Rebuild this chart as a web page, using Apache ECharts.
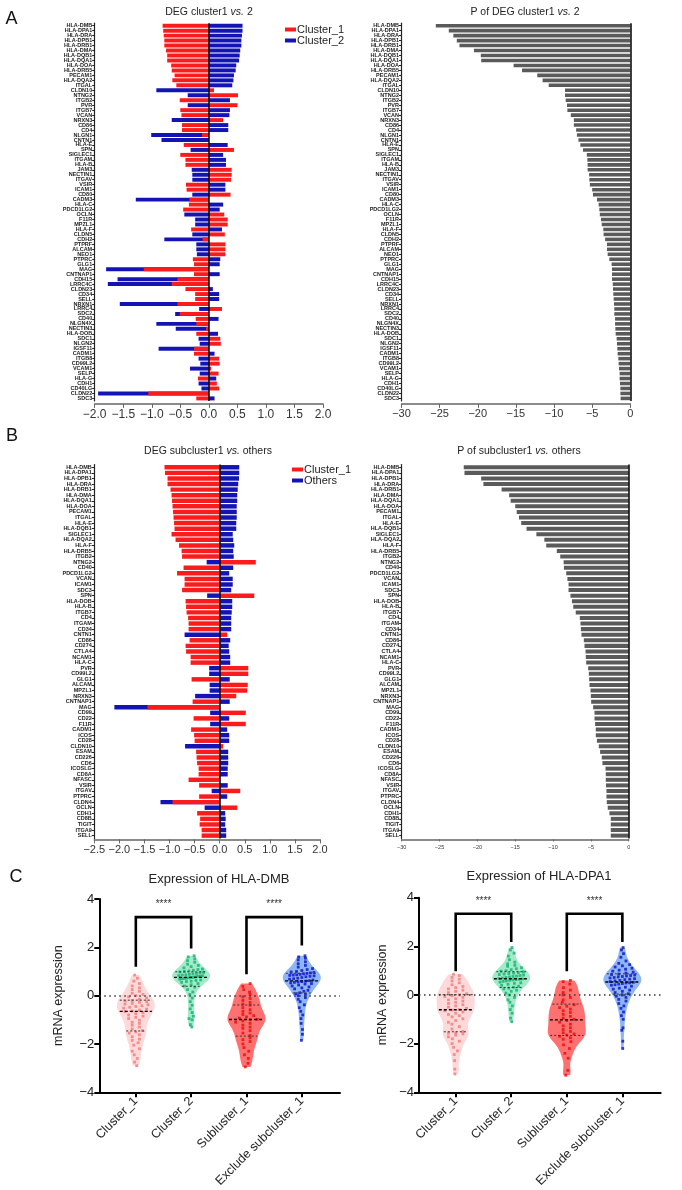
<!DOCTYPE html>
<html><head><meta charset="utf-8">
<script src="https://cdn.jsdelivr.net/npm/echarts@6/dist/echarts.min.js"></script>
<style>html,body{margin:0;padding:0;background:#fff}#c{width:682px;height:1190px}</style>
</head><body><div id="c"></div>
<script>
// ---------- Panel A data ----------
const genesA = ['HLA-DMB','HLA-DPA1','HLA-DRA','HLA-DPB1','HLA-DRB1','HLA-DMA','HLA-DQB1','HLA-DQA1','HLA-DOA','HLA-DRB5','PECAM1','HLA-DQA2','ITGAL','CLDN10','NTNG2','ITGB2','PVR','ITGB7','VCAN','NRXN3','CD86','CD4','NLGN1','CNTN1','HLA-E','SPN','SIGLEC1','ITGAM','HLA-B','JAM3','NECTIN1','ITGAV','VSIR','ICAM1','CD80','CADM3','HLA-C','PDCD1LG2','OCLN','F11R','MPZL1','HLA-F','CLDN5','CDH2','PTPRF','ALCAM','NEO1','PTPRC','GLG1','MAG','CNTNAP1','CDH15','LRRC4C','CLDN23','CD34','SELL','NRXN1','LRRC4','SDC2','CD40','NLGN4X','NECTIN3','HLA-DOB','SDC1','NLGN2','IGSF11','CADM1','ITGB8','CD99L2','VCAM1','SELP','HLA-G','CDH1','CD40LG','CLDN22','SDC3'];
const aCluster1 = [-0.81,-0.80,-0.79,-0.78,-0.78,-0.75,-0.73,-0.73,-0.66,-0.65,-0.60,-0.64,-0.57,0.09,0.51,-0.51,0.50,-0.50,-0.48,0.25,-0.47,-0.47,-0.12,0,-0.44,0.44,-0.50,-0.41,-0.41,0.40,0.40,0.39,-0.40,-0.39,0.38,-0.34,-0.35,-0.45,0.27,0.33,0.33,-0.31,0.28,-0.11,0.29,0.29,0.29,-0.28,-0.26,-1.14,-0.26,-0.55,-0.65,-0.41,-0.24,-0.24,-0.55,0.23,-0.51,-0.23,-0.22,-0.05,-0.22,0.20,0.21,-0.26,-0.26,0.18,0.19,0.04,0.17,-0.19,0.14,0.18,-1.06,-0.22];
const aCluster2 = [0.59,0.59,0.58,0.57,0.57,0.55,0.54,0.53,0.48,0.47,0.44,0.43,0.41,-0.92,-0.37,0.37,-0.37,0.37,0.36,-0.65,0.34,0.34,-1.01,-0.83,0.33,-0.32,0.25,0.30,0.30,-0.30,-0.29,-0.29,0.29,0.29,-0.29,-1.28,0.25,0.19,-0.43,-0.24,-0.24,0.23,-0.29,-0.78,-0.22,-0.22,-0.21,0.20,0.19,-1.80,0.19,-1.60,-1.77,0.07,0.18,0.18,-1.56,-0.17,-0.59,0.17,-0.92,-0.58,0.16,-0.18,-0.16,-0.88,0.10,-0.18,-0.15,-0.33,-0.16,0.13,-0.18,-0.13,-1.94,0.10];
const aP = [-25.5,-23.8,-23.2,-22.75,-22.4,-20.5,-19.6,-19.55,-15.3,-14.2,-12.2,-11.5,-10.7,-8.56,-8.56,-8.47,-8.3,-8.25,-7.8,-7.4,-7.4,-7.1,-7.0,-6.8,-6.55,-6.2,-5.7,-5.63,-5.6,-5.6,-5.4,-5.37,-5.3,-5.0,-4.9,-4.37,-4.15,-4.06,-4.0,-3.84,-3.75,-3.54,-3.5,-3.3,-3.06,-3.06,-2.97,-2.75,-2.45,-2.4,-2.4,-2.4,-2.3,-2.27,-2.23,-2.18,-2.14,-2.1,-2.1,-2.0,-2.0,-1.96,-1.92,-1.79,-1.75,-1.7,-1.66,-1.57,-1.53,-1.48,-1.4,-1.4,-1.35,-1.3,-1.3,-1.27];
const aTicks = [-2, 2, 0.5];
const apTicks = [-30, 0, 5];

// ---------- Panel B data ----------
const genesB = ['HLA-DMB','HLA-DPA1','HLA-DPB1','HLA-DRA','HLA-DRB1','HLA-DMA','HLA-DQA1','HLA-DOA','PECAM1','ITGAL','HLA-E','HLA-DQB1','SIGLEC1','HLA-DQA2','HLA-F','HLA-DRB5','ITGB2','NTNG2','CD40','PDCD1LG2','VCAN','ICAM1','SDC3','SPN','HLA-DOB','HLA-B','ITGB7','CD4','ITGAM','CD34','CNTN1','CD86','CD274','CTLA4','NCAM1','HLA-C','PVR','CD99L2','GLG1','ALCAM','MPZL1','NRXN3','CNTNAP1','MAG','CD99','CD22','F11R','CADM1','ICOS','CD28','CLDN10','ESAM','CD226','CD6','ICOSLG','CD8A','NFASC','VSIR','ITGAV','PTPRC','CLDN4','OCLN','CDH1','CD8B','TIGIT','ITGA9','SELL'];
const bCluster1 = [-1.10,-1.09,-1.04,-1.04,-0.98,-0.96,-0.95,-0.94,-0.93,-0.92,-0.91,-0.90,-0.96,-0.88,-0.81,-0.76,-0.75,0.72,-0.72,-0.85,-0.70,-0.70,-0.75,0.69,-0.68,-0.67,-0.66,-0.63,-0.62,-0.62,0.15,-0.60,-0.68,-0.67,-0.58,-0.58,0.57,0.57,-0.56,0.56,0.55,0.33,-0.54,-1.44,0.52,-0.52,0.52,-0.57,-0.51,-0.50,0.07,-0.47,-0.46,-0.45,-0.42,-0.42,-0.62,-0.41,0.41,-0.41,-0.94,0.35,-0.45,-0.39,-0.40,-0.36,-0.36];
const bOthers = [0.39,0.39,0.385,0.37,0.36,0.35,0.35,0.34,0.34,0.34,0.33,0.33,0.26,0.27,0.29,0.27,0.28,-0.26,0.27,0.19,0.26,0.26,0.23,-0.25,0.25,0.25,0.24,0.23,0.23,0.23,-0.70,0.21,0.18,0.19,0.21,0.21,-0.21,-0.21,0.20,-0.20,-0.20,-0.49,0.20,-2.10,-0.19,0.19,-0.19,0.15,0.19,0.19,-0.69,0.17,0.17,0.17,0.16,0.16,0,0.16,-0.16,0.15,-1.18,-0.30,0.11,0.12,0.11,0.13,0.13];
const bP = [-21.8,-21.7,-19.5,-19.2,-16.8,-15.8,-15.6,-15.0,-14.8,-14.5,-14.2,-13.5,-12.2,-11.15,-10.9,-9.5,-9.05,-8.6,-8.56,-8.26,-8.1,-7.95,-7.95,-7.7,-7.5,-7.33,-7.0,-6.46,-6.37,-6.32,-6.24,-5.93,-5.84,-5.7,-5.67,-5.62,-5.36,-5.27,-5.23,-5.18,-5.05,-5.0,-4.96,-4.7,-4.52,-4.52,-4.44,-4.35,-4.35,-4.2,-3.95,-3.78,-3.56,-3.47,-3.07,-3.03,-3.03,-3.0,-2.94,-2.94,-2.9,-2.77,-2.55,-2.37,-2.37,-2.37,-2.37];
const bTicks = [-2.5, 2, 0.5];

// ---------- Panel C data ----------
const vCats = ['Cluster_1','Cluster_2','Subluster_1','Exclude subcluster_1'];
const dmbC1 = [-2.9,-2.75,-2.6,-2.45,-2.3,-2.2,-2.05,-1.95,-1.85,-1.8,-1.7,-1.62,-1.55,-1.5,-1.45,-1.38,-1.3,-1.22,-1.15,-1.1,-1.02,-0.95,-0.9,-0.85,-0.8,-0.75,-0.7,-0.66,-0.64,-0.6,-0.56,-0.52,-0.48,-0.45,-0.42,-0.38,-0.35,-0.32,-0.28,-0.25,-0.22,-0.2,-0.15,-0.1,-0.05,0.0,0.05,0.1,0.18,0.25,0.32,0.4,0.5,0.6,0.72,0.85];
const dmbC2 = [-1.3,-1.2,-1.0,-0.95,-0.85,-0.7,-0.55,-0.4,-0.25,-0.1,0.05,0.15,0.25,0.35,0.4,0.45,0.5,0.55,0.58,0.6,0.63,0.65,0.68,0.7,0.71,0.72,0.74,0.75,0.76,0.78,0.8,0.8,0.82,0.83,0.85,0.86,0.88,0.9,0.92,0.94,0.96,0.98,1.0,1.02,1.05,1.08,1.1,1.15,1.2,1.25,1.3,1.38,1.45,1.52,1.6,1.65];
const dmbS1 = [-2.95,-2.8,-2.6,-2.45,-2.3,-2.15,-2.0,-1.9,-1.82,-1.75,-1.65,-1.55,-1.45,-1.35,-1.3,-1.22,-1.15,-1.1,-1.05,-1.0,-0.98,-0.93,-0.88,-0.83,-0.78,-0.72,-0.65,-0.58,-0.5,-0.4,-0.35,-0.28,-0.2,-0.12,-0.05,0.05,0.15,0.25,0.38,0.5];
const dmbE = [-1.85,-1.6,-1.4,-1.15,-0.95,-0.8,-0.65,-0.5,-0.38,-0.25,-0.15,-0.08,0.0,0.05,0.08,0.12,0.18,0.22,0.28,0.32,0.36,0.4,0.44,0.48,0.5,0.53,0.55,0.57,0.58,0.6,0.62,0.65,0.68,0.7,0.72,0.75,0.78,0.8,0.82,0.84,0.85,0.86,0.88,0.9,0.92,0.94,0.96,0.98,1.0,1.04,1.08,1.12,1.18,1.25,1.32,1.4,1.48,1.55,1.6,1.65];
const dpaC1 = [-3.25,-3.05,-2.7,-2.45,-2.3,-2.15,-2.0,-1.9,-1.8,-1.72,-1.65,-1.6,-1.57,-1.55,-1.5,-1.4,-1.3,-1.2,-1.12,-1.05,-0.98,-0.9,-0.85,-0.8,-0.75,-0.7,-0.65,-0.62,-0.6,-0.55,-0.5,-0.45,-0.4,-0.35,-0.3,-0.25,-0.2,-0.15,-0.1,-0.06,-0.03,0.0,0.05,0.1,0.15,0.2,0.25,0.3,0.35,0.42,0.5,0.58,0.65,0.72,0.8,0.85];
const dpaC2 = [-1.1,-0.95,-0.75,-0.6,-0.45,-0.3,-0.2,-0.1,0.0,0.08,0.15,0.2,0.25,0.28,0.32,0.36,0.4,0.44,0.48,0.5,0.53,0.56,0.58,0.6,0.62,0.63,0.65,0.66,0.68,0.7,0.72,0.74,0.76,0.78,0.8,0.82,0.84,0.86,0.88,0.9,0.92,0.95,0.98,1.0,1.04,1.08,1.12,1.18,1.22,1.28,1.35,1.45,1.6,1.72,1.85,1.95];
const dpaS1 = [-3.3,-3.1,-2.6,-2.4,-2.2,-2.05,-1.92,-1.82,-1.76,-1.7,-1.65,-1.6,-1.55,-1.5,-1.42,-1.35,-1.27,-1.2,-1.12,-1.05,-1.0,-0.95,-0.88,-0.8,-0.72,-0.65,-0.58,-0.52,-0.46,-0.4,-0.3,-0.2,-0.1,0.0,0.1,0.2,0.3,0.45,0.55,0.6];
const dpaE = [-2.2,-1.9,-1.45,-1.35,-1.0,-0.85,-0.7,-0.55,-0.45,-0.35,-0.25,-0.18,-0.1,-0.05,0.0,0.05,0.1,0.15,0.2,0.24,0.28,0.32,0.36,0.4,0.42,0.45,0.47,0.49,0.5,0.52,0.55,0.58,0.6,0.63,0.65,0.67,0.7,0.72,0.74,0.76,0.78,0.8,0.82,0.84,0.86,0.9,0.94,0.98,1.02,1.06,1.1,1.15,1.2,1.25,1.3,1.4,1.55,1.7,1.85,1.95];
// comparisons: [groupA, groupB, bracketTop, leftLegEnd, rightLegEnd]
const dmbComparisons = [[0,1,3.25,1.2,1.95],[2,3,3.25,0.88,2.08]];
const dpaComparisons = [[0,1,3.34,0.98,2.18],[2,3,3.34,0.98,2.18]];
const sigLabels = ['****','****'];

// ---------- styling ----------
const FONT = '"Liberation Sans", Arial, Helvetica, sans-serif';
const RED = '#fa1c1c', BLUE = '#1414b4', GRAY = '#5a5a5a';
const vFill = ['#fdd9d9','#a3ebc8','#ff7070','#8db6f4'];
const vPoint = ['#f07a7a','#10b070','#e80a0a','#0c0cc8'];
const minus = v => String(v).replace('-', '\u2212');

function catY(gi, genes){
  return {type:'category', gridIndex:gi, data:genes, inverse:true,
    axisLine:{onZero:false, lineStyle:{color:'#222', width:1.2}},
    axisTick:{show:true, alignWithLabel:true, length:2.5, lineStyle:{color:'#222', width:1}},
    axisLabel:{interval:0, hideOverlap:false, fontSize:5.5, fontWeight:'bold', color:'#222', margin:2.5, fontFamily:FONT},
    splitLine:{show:false}};
}
function valX(gi, t, fs, fmt, off){
  return {type:'value', gridIndex:gi, min:t[0], max:t[1], interval:t[2], offset:off,
    axisLine:{show:true, onZero:false, lineStyle:{color:'#666', width:1.5}},
    axisTick:{show:true, length:4, lineStyle:{color:'#666', width:1}},
    axisLabel:{fontSize:fs, color:'#333', fontFamily:FONT, margin:5, formatter:fmt},
    splitLine:{show:false}};
}
const zeroLine = {silent:true, symbol:'none', label:{show:false}, lineStyle:{color:'#000', type:'solid', width:1.5}, data:[{xAxis:0}]};

// ---------- violin helpers ----------
function quant(s, p){ const i=(s.length-1)*p, lo=Math.floor(i), hi=Math.ceil(i); return s[lo]+(s[hi]-s[lo])*(i-lo); }
function kde(vals, y, bw){ let d=0; for (const v of vals) { const z=(y-v)/bw; d+=Math.exp(-0.5*z*z); } return d; }
function shape(vals){
  const s=[...vals].sort((a,b)=>a-b), mn=s[0], mx=s[s.length-1], bw=0.26, N=60;
  const ys=[], ds=[]; let dmax=0;
  for (let i=0;i<=N;i++){ const y=mn+(mx-mn)*i/N, d=kde(vals,y,bw); ys.push(y); ds.push(d); if(d>dmax)dmax=d; }
  return {s, ys, ds:ds.map(d=>d/dmax), w:(y)=>kde(vals,y,bw)/dmax};
}
const MAXW = 19; // px half width
const PXU = 55.3; // px per x unit
function swarm(groups){
  const out=[];
  groups.forEach((vals,gi)=>{
    const sh=shape(vals), bins={};
    vals.forEach(v=>{ const k=Math.round(v/0.15); (bins[k]=bins[k]||[]).push(v); });
    Object.keys(bins).forEach(k=>{
      const arr=bins[k], n=arr.length, wu=sh.w(arr[0])*MAXW/PXU;
      arr.forEach((v,j)=>{
        let dx;
        if (n===1) dx = ((+k)%2 ? 0.3 : -0.3)*wu;
        else dx = (j-(n-1)/2)*Math.min(0.13, 1.3*wu/(n-1));
        out.push({value:[gi+dx, v], itemStyle:{color:vPoint[gi]}});
      });
    });
  });
  return out;
}
function violinSeries(gi, groups){
  const shapes = groups.map(shape);
  return {type:'custom', xAxisIndex:gi, yAxisIndex:gi, clip:false, z:1, silent:true,
    data:groups.map((g,i)=>[i]),
    renderItem:(p,api)=>{
      const k=api.value(0), sh=shapes[k], L=[], R=[];
      sh.ys.forEach((y,i)=>{ const c=api.coord([k,y]), w=sh.ds[i]*MAXW; L.push([c[0]-w,c[1]]); R.push([c[0]+w,c[1]]); });
      return {type:'polygon', shape:{points:L.concat(R.reverse())}, style:{fill:vFill[k], stroke:null}};
    }};
}
function quartSeries(gi, groups){
  const shapes = groups.map(shape);
  return {type:'custom', xAxisIndex:gi, yAxisIndex:gi, clip:false, z:4, silent:true,
    data:groups.map((g,i)=>[i]),
    renderItem:(p,api)=>{
      const k=api.value(0), sh=shapes[k], ch=[];
      [[0.25,[2,2],1,'#333'],[0.5,[3,2],1.4,'#000'],[0.75,[2,2],1,'#333']].forEach(q=>{
        const y=quant(sh.s,q[0]), c=api.coord([k,y]), w=sh.w(y)*MAXW*0.92;
        ch.push({type:'line', shape:{x1:c[0]-w,y1:c[1],x2:c[0]+w,y2:c[1]}, style:{stroke:q[3], lineWidth:q[2], lineDash:q[1]}});
      });
      return {type:'group', children:ch};
    }};
}
function bracketSeries(gi, comps){
  return {type:'custom', xAxisIndex:gi, yAxisIndex:gi, clip:false, z:5, silent:true,
    data:comps,
    renderItem:(p,api)=>{
      const a=api.value(0), b=api.value(1), top=api.value(2), l=api.value(3), r=api.value(4);
      const p1=api.coord([a,l]), p2=api.coord([a,top]), p3=api.coord([b,top]), p4=api.coord([b,r]);
      const st=api.coord([(a+b)/2, top+0.52]);
      return {type:'group', children:[
        {type:'polyline', shape:{points:[p1,p2,p3,p4]}, style:{stroke:'#000', lineWidth:2.6, fill:null}},
        {type:'text', x:st[0], y:st[1], style:{text:sigLabels[p.dataIndex], fill:'#333', font:'10px '+FONT, align:'center', verticalAlign:'middle'}}
      ]};
    }};
}
function vx(gi){
  return {type:'value', gridIndex:gi, min:-0.66, max:3.69,
    axisLine:{show:true, onZero:false, lineStyle:{color:'#000', width:2}},
    axisTick:{show:true, customValues:[0,1,2,3], length:5, lineStyle:{color:'#000', width:2}},
    axisLabel:{customValues:[0,1,2,3], rotate:45, fontSize:12.5, color:'#222', fontFamily:FONT, margin:7, formatter:v=>vCats[Math.round(v)]},
    splitLine:{show:false}};
}
function vy(gi, gap){
  return {type:'value', gridIndex:gi, min:-4, max:4, interval:2,
    axisLine:{show:true, onZero:false, lineStyle:{color:'#000', width:2}},
    axisTick:{show:true, length:5, lineStyle:{color:'#000', width:2}},
    axisLabel:{fontSize:13, color:'#222', fontFamily:FONT, margin:5, formatter:minus},
    name:'mRNA expression', nameLocation:'middle', nameGap:gap, nameTextStyle:{fontSize:12.5, color:'#222', fontFamily:FONT},
    splitLine:{show:false}};
}
function ttl(rich, x, y, fs){
  return {text:rich, left:x, top:y, textAlign:'center', padding:0,
    textStyle:{fontWeight:'normal', rich:{n:{fontSize:fs, fontWeight:'normal', color:'#222', fontFamily:FONT}, i:{fontSize:fs, fontWeight:'normal', color:'#222', fontStyle:'italic', fontFamily:FONT}}}};
}
const dmbGroups=[dmbC1,dmbC2,dmbS1,dmbE], dpaGroups=[dpaC1,dpaC2,dpaS1,dpaE];
const dotted = {silent:true, symbol:'none', label:{show:false}, lineStyle:{color:'#333', type:[1.5,3.5], width:1.6}, data:[{yAxis:0}]};

const option = {
  animation:false,
  textStyle:{fontFamily:FONT},
  title:[
    ttl('{n|DEG cluster1 }{i|vs.}{n| 2}', 209, 6.5, 10.5),
    ttl('{n|P of DEG cluster1 }{i|vs.}{n| 2}', 525, 6.5, 10.5),
    ttl('{n|DEG subcluster1 }{i|vs.}{n| others}', 208, 445.5, 10.5),
    ttl('{n|P of subcluster1 }{i|vs.}{n| others}', 519, 445.5, 10.5),
    ttl('{n|Expression of HLA-DMB}', 219, 872.5, 13),
    ttl('{n|Expression of HLA-DPA1}', 539, 869.5, 13)
  ],
  legend:[
    {data:['Cluster_1','Cluster_2'], left:285, top:24, orient:'vertical', icon:'rect', itemWidth:11, itemHeight:4, itemGap:0, padding:0, selectedMode:false, textStyle:{fontSize:11, lineHeight:10, color:'#222', padding:[0,0,0,-4]}},
    {data:['Cluster_1','Others'], left:292, top:464, orient:'vertical', icon:'rect', itemWidth:11, itemHeight:4, itemGap:0, padding:0, selectedMode:false, textStyle:{fontSize:11, lineHeight:10, color:'#222', padding:[0,0,0,-4]}}
  ],
  graphic:[
    {type:'text', x:11.5, y:19, style:{text:'A', fill:'#111', font:'18px '+FONT, textAlign:'center', textVerticalAlign:'middle'}},
    {type:'text', x:12, y:436, style:{text:'B', fill:'#111', font:'18px '+FONT, textAlign:'center', textVerticalAlign:'middle'}},
    {type:'text', x:16, y:877, style:{text:'C', fill:'#111', font:'18px '+FONT, textAlign:'center', textVerticalAlign:'middle'}}
  ],
  grid:[
    {left:94.7, top:23.2, width:228.3, height:377.7},
    {left:401.5, top:23.2, width:228.8, height:377.7},
    {left:94.3, top:464.5, width:225.7, height:373.9},
    {left:401.7, top:464.5, width:227, height:373.9},
    {left:99.3, top:899, width:240.7, height:199.3},
    {left:419, top:897.7, width:241.7, height:200.6}
  ],
  xAxis:[
    valX(0, aTicks, 12, v=>minus(v.toFixed(1)), 3),
    valX(1, apTicks, 11, minus, 3),
    valX(2, bTicks, 11, v=>minus(v.toFixed(1)), 1),
    Object.assign(valX(3, apTicks, 5.5, minus, 1), {axisTick:{show:true,length:2,lineStyle:{color:'#666'}}}),
    vx(4), vx(5)
  ],
  yAxis:[ catY(0,genesA), catY(1,genesA), catY(2,genesB), catY(3,genesB), vy(4,34), vy(5,30) ],
  series:[
    {type:'bar', name:'Cluster_2', xAxisIndex:0, yAxisIndex:0, data:aCluster2, itemStyle:{color:BLUE}, barGap:'-100%', barCategoryGap:'20%'},
    {type:'bar', name:'Cluster_1', xAxisIndex:0, yAxisIndex:0, data:aCluster1, itemStyle:{color:RED}, barGap:'-100%', barCategoryGap:'20%', markLine:zeroLine},
    {type:'bar', name:'P A', xAxisIndex:1, yAxisIndex:1, data:aP, itemStyle:{color:GRAY}, barCategoryGap:'28%', markLine:zeroLine},
    {type:'bar', name:'Others', xAxisIndex:2, yAxisIndex:2, data:bOthers, itemStyle:{color:BLUE}, barGap:'-100%', barCategoryGap:'20%'},
    {type:'bar', name:'Cluster_1', xAxisIndex:2, yAxisIndex:2, data:bCluster1, itemStyle:{color:RED}, barGap:'-100%', barCategoryGap:'20%', markLine:zeroLine},
    {type:'bar', name:'P B', xAxisIndex:3, yAxisIndex:3, data:bP, itemStyle:{color:GRAY}, barCategoryGap:'28%', markLine:zeroLine},
    violinSeries(4, dmbGroups),
    {type:'scatter', xAxisIndex:4, yAxisIndex:4, symbol:'rect', symbolSize:2.8, z:3, silent:true, data:swarm(dmbGroups), markLine:dotted},
    quartSeries(4, dmbGroups),
    bracketSeries(4, dmbComparisons),
    violinSeries(5, dpaGroups),
    {type:'scatter', xAxisIndex:5, yAxisIndex:5, symbol:'rect', symbolSize:2.8, z:3, silent:true, data:swarm(dpaGroups), markLine:dotted},
    quartSeries(5, dpaGroups),
    bracketSeries(5, dpaComparisons)
  ]
};
const chart = echarts.init(document.getElementById('c'), null, {renderer:'canvas'});
chart.setOption(option);
</script></body></html>
